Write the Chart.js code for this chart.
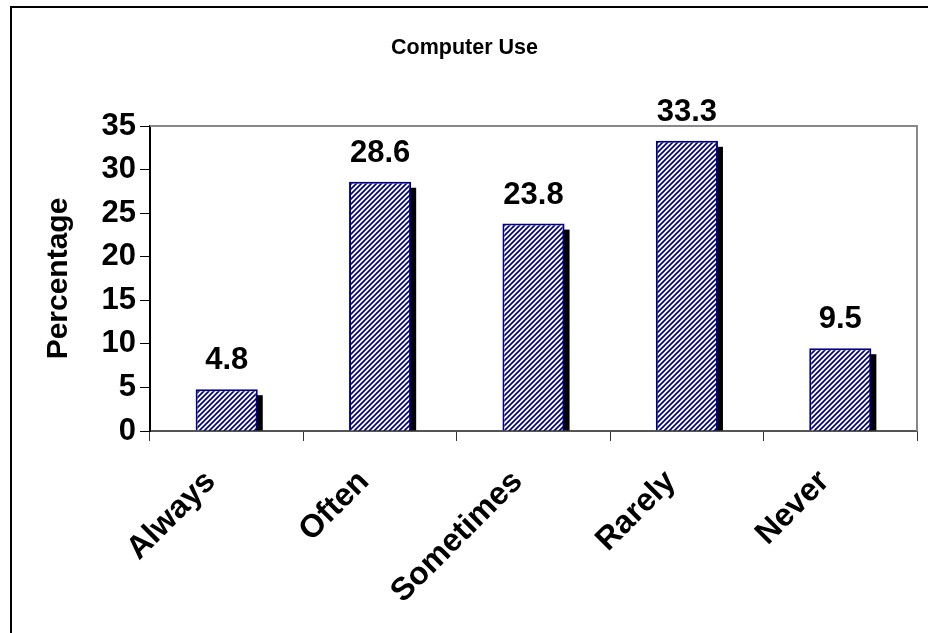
<!DOCTYPE html>
<html>
<head>
<meta charset="utf-8">
<script src="https://cdn.jsdelivr.net/npm/chart.js@4/dist/chart.umd.min.js"></script>
<style>
  html, body { margin: 0; padding: 0; background: #fff; }
  #wrap { width: 928px; height: 633px; }
</style>
</head>
<body>
<div id="wrap"><canvas id="useChart" width="928" height="633"></canvas></div>
<script>
// DATA
const categories = ['Always', 'Often', 'Sometimes', 'Rarely', 'Never'];
const percentages = [4.8, 28.6, 23.8, 33.3, 9.5];
const yTicks = [0, 5, 10, 15, 20, 25, 30, 35];

const FONT = 'Arial, "Liberation Sans", sans-serif';

// hatch fill for the bars
function makeHatch() {
    const c = document.createElement('canvas');
    c.width = 5; c.height = 5;
    const g = c.getContext('2d');
    g.fillStyle = '#ffffff';
    g.fillRect(0, 0, 5, 5);
    g.strokeStyle = '#000080';
    g.lineWidth = 1.7;
    g.beginPath();
    g.moveTo(0, 5); g.lineTo(5, 0);
    g.moveTo(-1, 1); g.lineTo(1, -1);
    g.moveTo(4, 6); g.lineTo(6, 4);
    g.stroke();
    return g.createPattern(c, 'repeat');
}

// frame, plot border, bar shadows and value labels
const decorations = {
    id: 'decorations',
    beforeDraw(chart) {
        const ctx = chart.ctx;
        ctx.save();
        ctx.fillStyle = '#000';
        ctx.fillRect(10, 6, chart.width - 10, 2);
        ctx.fillRect(10, 6, 2, chart.height - 6);
        ctx.restore();
    },
    beforeDatasetsDraw(chart) {
        const ctx = chart.ctx;
        const area = chart.chartArea;
        ctx.save();
        ctx.strokeStyle = '#888';
        ctx.lineWidth = 2;
        ctx.beginPath();
        ctx.moveTo(area.left, area.top);
        ctx.lineTo(area.right, area.top);
        ctx.lineTo(area.right, area.bottom);
        ctx.stroke();
        ctx.fillStyle = '#000';
        chart.getDatasetMeta(0).data.forEach(bar => {
            const left = bar.x - bar.width / 2;
            ctx.fillRect(left + 5, bar.y + 6, bar.width, bar.base - bar.y - 6);
        });
        ctx.restore();
    },
    afterDatasetsDraw(chart) {
        const ctx = chart.ctx;
        ctx.save();
        ctx.fillStyle = '#000';
        ctx.font = 'bold 31px ' + FONT;
        ctx.textAlign = 'center';
        ctx.textBaseline = 'alphabetic';
        chart.getDatasetMeta(0).data.forEach((bar, i) => {
            ctx.fillText(percentages[i].toString(), bar.x, bar.y - 20);
        });
        ctx.restore();
    }
};

window.onload = function () {
    const ctx = document.getElementById('useChart').getContext('2d');

    new Chart(ctx, {
        type: 'bar',
        data: {
            labels: categories,
            datasets: [{
                data: percentages,
                backgroundColor: makeHatch(),
                borderColor: '#000080',
                borderWidth: 2,
                barPercentage: 0.405,
                categoryPercentage: 1
            }]
        },
        options: {
            responsive: false,
            animation: false,
            layout: { padding: { top: 21, right: 11, bottom: 0, left: 12 } },
            plugins: {
                legend: { display: false },
                tooltip: { enabled: false },
                title: {
                    display: true,
                    text: 'Computer Use',
                    color: '#000',
                    font: { family: FONT, size: 21.5, weight: 'bold', lineHeight: 1.2 },
                    padding: { top: 14, bottom: 65.2 }
                }
            },
            scales: {
                x: {
                    offset: true,
                    grid: {
                        display: true, drawOnChartArea: false, offset: true,
                        tickLength: 10, color: '#333', lineWidth: 1
                    },
                    border: { display: true, color: '#555', width: 2 },
                    ticks: {
                        color: '#000',
                        font: { family: FONT, size: 32, weight: 'bold' },
                        minRotation: 45, maxRotation: 45,
                        padding: 22,
                        labelOffset: -16
                    },
                    afterFit(scale) { scale.height = 202; }
                },
                y: {
                    min: 0,
                    max: 35,
                    afterBuildTicks(scale) { scale.ticks = yTicks.map(v => ({ value: v })); },
                    grid: {
                        display: true, drawOnChartArea: false,
                        tickLength: 10, color: '#000', lineWidth: 1
                    },
                    border: { display: true, color: '#000', width: 2 },
                    ticks: {
                        color: '#000',
                        font: { family: FONT, size: 31, weight: 'bold' },
                        padding: 4
                    },
                    title: {
                        display: true,
                        text: 'Percentage',
                        color: '#000',
                        font: { family: FONT, size: 30, weight: 'bold', lineHeight: 1.2 },
                        padding: { top: 29, bottom: 0 }
                    },
                    afterFit(scale) { scale.width = 138; }
                }
            }
        },
        plugins: [decorations]
    });
};
</script>
</body>
</html>
